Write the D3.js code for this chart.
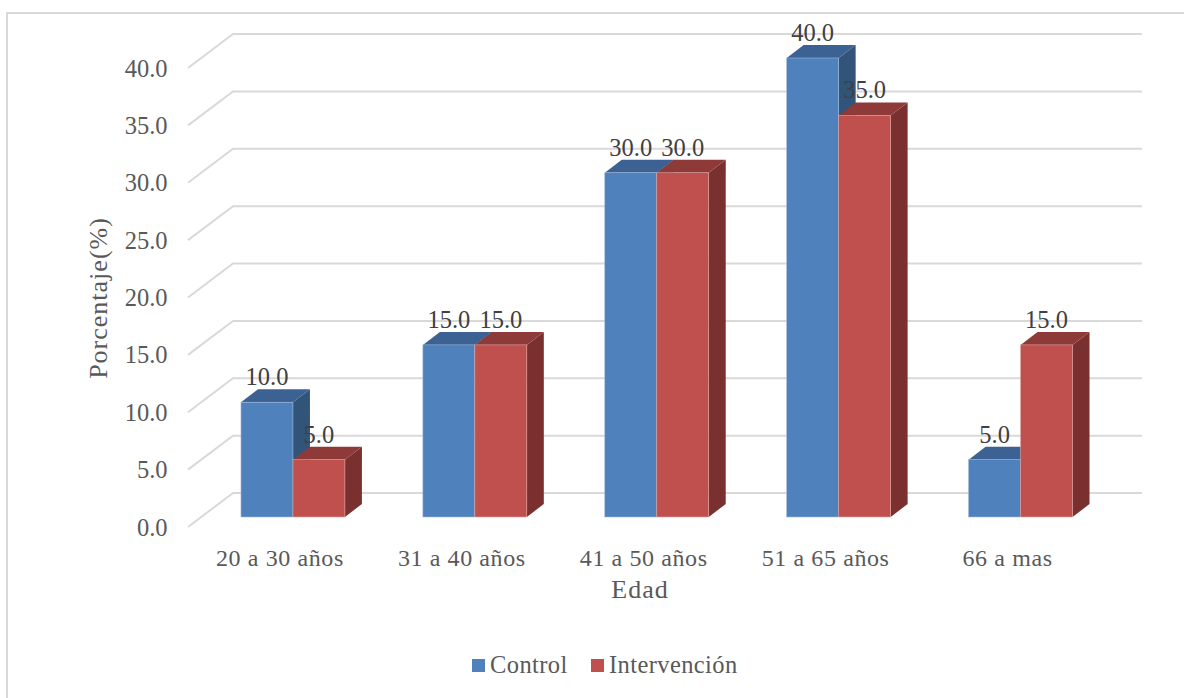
<!DOCTYPE html>
<html lang="en">
<head>
<meta charset="utf-8">
<title>Porcentaje por edad</title>
<script src="https://cdn.jsdelivr.net/npm/d3@7/dist/d3.min.js"></script>
<style>
  html, body { margin: 0; padding: 0; background: #fff; }
  svg { display: block; }
  text { font-family: "Liberation Serif", "DejaVu Serif", serif; }
</style>
</head>
<body>
<script>
// data
var categories = ["20 a 30 años", "31 a 40 años", "41 a 50 años", "51 a 65 años", "66 a mas"];
var seriesNames = ["Control", "Intervención"];
var control = [10, 15, 30, 40, 5];
var intervencion = [5, 15, 30, 35, 15];
var yTicks = [0, 5, 10, 15, 20, 25, 30, 35, 40];

var w = 1184, h = 698;
var depthX = 17, depthY = 13;   // bar depth
var wallX = 45, wallY = 34;     // floor depth

var svg = d3.select("body").append("svg").attr("width", w).attr("height", h);

// chart frame, only left and top show in the picture
svg.append("path")
    .attr("d", "M7,698V13H1184")
    .attr("fill", "none").attr("stroke", "#d9d9d9").attr("stroke-width", 2);

var xscale = d3.scaleBand().domain(categories).range([202, 1111.5]).paddingInner(0.4286).paddingOuter(0.2143);
var xseries = d3.scaleBand().domain(seriesNames).range([0, xscale.bandwidth()]);
var yscale = d3.scaleLinear().domain([0, 40]).range([517, 58]);

// gridlines on the back wall with the diagonal on the side wall
var yaxisPos = function(v) { return yscale(v) + 10; };
var grid = svg.append("g");
yTicks.forEach(function(v) {
    var y0 = yaxisPos(v);
    grid.append("path")
        .attr("d", "M188," + y0 + "L" + (188 + wallX) + "," + (y0 - wallY) + "H1142")
        .attr("fill", "none").attr("stroke", "#d9d9d9").attr("stroke-width", 2);
});

// y tick labels
svg.append("g").selectAll("text").data(yTicks).enter().append("text")
    .attr("x", 167.5).attr("y", function(d) { return yaxisPos(d) + 8.5; })
    .attr("text-anchor", "end").attr("font-size", 24.5).attr("fill", "#595959")
    .text(function(d) { return d.toFixed(1); });

var colors = {
    "Control": { front: "#4f81bd", top: "#3b6292", side: "#325479", edge: "#9db8da" },
    "Intervención": { front: "#c0504d", top: "#8e3a38", side: "#7a302e", edge: "#dca5a3" }
};

function drawBars(name, values) {
    var c = colors[name];
    var g = svg.append("g");
    categories.forEach(function(cat, i) {
        var x0 = xscale(cat) + xseries(name);
        var x1 = x0 + xseries.bandwidth();
        var yt = yscale(values[i]);
        var yb = yscale(0);
        g.append("path")
            .attr("d", "M" + x1 + "," + yt + "L" + (x1 + depthX) + "," + (yt - depthY) + "V" + (yb - depthY) + "L" + x1 + "," + yb + "Z")
            .attr("fill", c.side);
        g.append("path")
            .attr("d", "M" + x0 + "," + yt + "L" + (x0 + depthX) + "," + (yt - depthY) + "H" + (x1 + depthX) + "L" + x1 + "," + yt + "Z")
            .attr("fill", c.top);
        g.append("rect")
            .attr("x", x0).attr("y", yt)
            .attr("width", x1 - x0).attr("height", yb - yt)
            .attr("fill", c.front)
            .attr("stroke", c.edge).attr("stroke-width", 0.6);
    });
}
drawBars("Control", control);
drawBars("Intervención", intervencion);

// value labels
function drawLabels(name, values) {
    svg.append("g").selectAll("text").data(values).enter().append("text")
        .attr("x", function(d, i) { return xscale(categories[i]) + xseries(name) + xseries.bandwidth() / 2; })
        .attr("y", function(d) { return yscale(d) - 17; })
        .attr("text-anchor", "middle").attr("font-size", 24.5).attr("fill", "#404040")
        .text(function(d) { return d.toFixed(1); });
}
drawLabels("Control", control);
drawLabels("Intervención", intervencion);

// category labels
svg.append("g").selectAll("text").data(categories).enter().append("text")
    .attr("x", function(d) { return xscale(d) + xscale.bandwidth() / 2 - 13; })
    .attr("y", 566)
    .attr("text-anchor", "middle").attr("font-size", 24).attr("letter-spacing", 0.6).attr("fill", "#595959")
    .text(function(d) { return d; });

// axis titles
svg.append("text").attr("x", 640).attr("y", 598)
    .attr("text-anchor", "middle").attr("font-size", 26).attr("letter-spacing", 1).attr("fill", "#595959").text("Edad");
svg.append("text").attr("transform", "translate(107,298) rotate(-90)")
    .attr("text-anchor", "middle").attr("font-size", 26).attr("letter-spacing", 1).attr("fill", "#595959").text("Porcentaje(%)");

// legend
var legendX = [472, 591];
seriesNames.forEach(function(name, i) {
    svg.append("rect").attr("x", legendX[i]).attr("y", 659).attr("width", 13).attr("height", 13)
        .attr("fill", colors[name].front);
    svg.append("text").attr("x", legendX[i] + 18).attr("y", 673)
        .attr("font-size", 24.5).attr("letter-spacing", 0.4).attr("fill", "#595959").text(name);
});
</script>
</body>
</html>
